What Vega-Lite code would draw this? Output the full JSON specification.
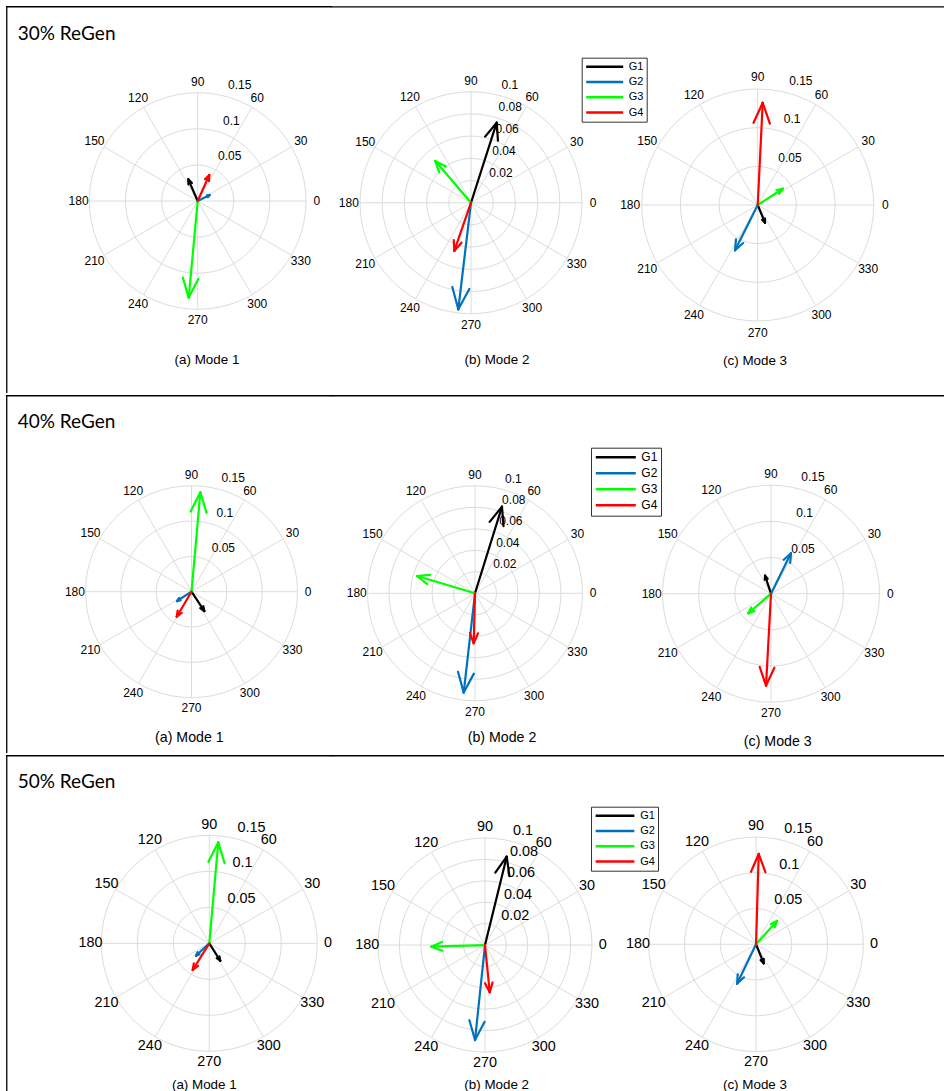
{
"$schema": "https://vega.github.io/schema/vega-lite/v6.json",
"padding": {"left": 5, "top": 5, "right": 0, "bottom": 0},
"background": "white",
"config": {"view": {"stroke": null}},
"datasets": {
 "spokes": [{"a":0},{"a":30},{"a":60},{"a":90},{"a":120},{"a":150}],
 "angles": [{"a":0},{"a":30},{"a":60},{"a":90},{"a":120},{"a":150},{"a":180},{"a":210},{"a":240},{"a":270},{"a":300},{"a":330}],
 "rings15": [{"v":0.05,"lab":"0.05"},{"v":0.1,"lab":"0.1"},{"v":0.15,"lab":"0.15"}],
 "rings10": [{"v":0.02,"lab":"0.02"},{"v":0.04,"lab":"0.04"},{"v":0.06,"lab":"0.06"},{"v":0.08,"lab":"0.08"},{"v":0.1,"lab":"0.1"}],
 "arrows": [
  {"pct":30,"mode":1,"g":"G1","mag":0.0327,"ang":113.4},
  {"pct":30,"mode":1,"g":"G2","mag":0.0186,"ang":26.6},
  {"pct":30,"mode":1,"g":"G3","mag":0.1345,"ang":264.7},
  {"pct":30,"mode":1,"g":"G4","mag":0.0394,"ang":65.9},
  {"pct":30,"mode":2,"g":"G1","mag":0.0757,"ang":72.2},
  {"pct":30,"mode":2,"g":"G2","mag":0.0967,"ang":263.2},
  {"pct":30,"mode":2,"g":"G3","mag":0.0494,"ang":130.6},
  {"pct":30,"mode":2,"g":"G4","mag":0.046,"ang":250.9},
  {"pct":30,"mode":3,"g":"G1","mag":0.0247,"ang":292.4},
  {"pct":30,"mode":3,"g":"G2","mag":0.0655,"ang":243.4},
  {"pct":30,"mode":3,"g":"G3","mag":0.0386,"ang":33.1},
  {"pct":30,"mode":3,"g":"G4","mag":0.1324,"ang":87.2},
  {"pct":40,"mode":1,"g":"G1","mag":0.0328,"ang":303.6},
  {"pct":40,"mode":1,"g":"G2","mag":0.0244,"ang":212.7},
  {"pct":40,"mode":1,"g":"G3","mag":0.1412,"ang":84.9},
  {"pct":40,"mode":1,"g":"G4","mag":0.0411,"ang":239.4},
  {"pct":40,"mode":2,"g":"G1","mag":0.0844,"ang":72.7},
  {"pct":40,"mode":2,"g":"G2","mag":0.093,"ang":263.5},
  {"pct":40,"mode":2,"g":"G3","mag":0.0563,"ang":163.4},
  {"pct":40,"mode":2,"g":"G4","mag":0.0465,"ang":268.5},
  {"pct":40,"mode":3,"g":"G1","mag":0.0262,"ang":108.4},
  {"pct":40,"mode":3,"g":"G2","mag":0.0623,"ang":63.7},
  {"pct":40,"mode":3,"g":"G3","mag":0.0415,"ang":220.8},
  {"pct":40,"mode":3,"g":"G4","mag":0.1273,"ang":266.9},
  {"pct":50,"mode":1,"g":"G1","mag":0.0286,"ang":302.3},
  {"pct":50,"mode":1,"g":"G2","mag":0.0253,"ang":223},
  {"pct":50,"mode":1,"g":"G3","mag":0.1408,"ang":84.9},
  {"pct":50,"mode":1,"g":"G4","mag":0.0436,"ang":238.1},
  {"pct":50,"mode":2,"g":"G1","mag":0.085,"ang":76.2},
  {"pct":50,"mode":2,"g":"G2","mag":0.0893,"ang":264},
  {"pct":50,"mode":2,"g":"G3","mag":0.0502,"ang":181.8},
  {"pct":50,"mode":2,"g":"G4","mag":0.0444,"ang":275.7},
  {"pct":50,"mode":3,"g":"G1","mag":0.0287,"ang":292},
  {"pct":50,"mode":3,"g":"G2","mag":0.0611,"ang":244.3},
  {"pct":50,"mode":3,"g":"G3","mag":0.0439,"ang":48},
  {"pct":50,"mode":3,"g":"G4","mag":0.1263,"ang":88.3}
 ]
},
"spacing": 0,
"resolve": {"scale": {"color": "independent", "size": "independent"}, "legend": {"color": "independent", "size": "independent"}},
"vconcat": [
{"hconcat": [
{"width":325,"height":387,"layer":[
 {"data":{"name":"spokes"},"transform":[{"calculate":"cos(datum.a*PI/180)","as":"c"},{"calculate":"sin(datum.a*PI/180)","as":"s"},{"calculate":"-cos(datum.a*PI/180)","as":"c2"},{"calculate":"-sin(datum.a*PI/180)","as":"s2"}],"mark":{"type":"rule","stroke":"#dcdcdc","strokeWidth":1},"encoding":{"x":{"field":"c","type":"quantitative","scale":{"domain":[-1.770,1.231],"nice":false,"zero":false},"axis":null},"y":{"field":"s","type":"quantitative","scale":{"domain":[-1.773,1.801],"nice":false,"zero":false},"axis":null},"x2":{"field":"c2"},"y2":{"field":"s2"}}},
 {"data":{"name":"rings15"},"transform":[{"calculate":"datum.v/0.15","as":"n"}],"mark":{"type":"point","shape":"circle","filled":false,"stroke":"#dcdcdc","strokeWidth":1,"opacity":1},"encoding":{"x":{"datum":0,"type":"quantitative"},"y":{"datum":0,"type":"quantitative"},"size":{"field":"n","type":"quantitative","scale":{"type":"pow","exponent":2,"domain":[0,1],"range":[0,46916]},"legend":null}}},
 {"data":{"name":"angles"},"transform":[{"calculate":"1.1*cos(datum.a*PI/180)","as":"lx"},{"calculate":"1.1*sin(datum.a*PI/180)","as":"ly"}],"mark":{"type":"text","font":"Liberation Sans","fontSize":12,"fill":"#000"},"encoding":{"x":{"field":"lx","type":"quantitative"},"y":{"field":"ly","type":"quantitative"},"text":{"field":"a","type":"nominal"}}},
 {"data":{"name":"rings15"},"transform":[{"calculate":"datum.v/0.15+0.017","as":"n"},{"calculate":"datum.n*cos(82*PI/180)","as":"lx"},{"calculate":"datum.n*sin(82*PI/180)","as":"ly"}],"mark":{"type":"text","font":"Liberation Sans","fontSize":12,"fill":"#000","align":"left","baseline":"bottom","dx":15},"encoding":{"x":{"field":"lx","type":"quantitative"},"y":{"field":"ly","type":"quantitative"},"text":{"field":"lab","type":"nominal"}}},
 {"data":{"name":"arrows"},"transform":[{"filter":"datum.pct==30 && datum.mode==1"},{"calculate":"datum.mag/0.15","as":"n"},{"calculate":"datum.ang*PI/180","as":"t"},{"calculate":"0","as":"o"},{"calculate":"datum.n*cos(datum.t)","as":"tx"},{"calculate":"datum.n*sin(datum.t)","as":"ty"}],"mark":{"type":"rule","strokeWidth":2.2,"strokeCap":"round"},"encoding":{"x":{"field":"o","type":"quantitative"},"y":{"field":"o","type":"quantitative"},"x2":{"field":"tx"},"y2":{"field":"ty"},"color":{"field":"g","type":"nominal","scale":{"domain":["G1","G2","G3","G4"],"range":["#000000","#0072BD","#00FF00","#FF0000"]},"legend":null}}},
 {"data":{"name":"arrows"},"transform":[{"filter":"datum.pct==30 && datum.mode==1"},{"calculate":"datum.mag/0.15","as":"n"},{"calculate":"datum.ang*PI/180","as":"t"},{"calculate":"datum.n*cos(datum.t)","as":"tx"},{"calculate":"datum.n*sin(datum.t)","as":"ty"},{"calculate":"datum.n*(0.8*cos(datum.t)-0.08*sin(datum.t))","as":"hx"},{"calculate":"datum.n*(0.8*sin(datum.t)+0.08*cos(datum.t))","as":"hy"}],"mark":{"type":"rule","strokeWidth":2.2,"strokeCap":"round"},"encoding":{"x":{"field":"tx","type":"quantitative"},"y":{"field":"ty","type":"quantitative"},"x2":{"field":"hx"},"y2":{"field":"hy"},"color":{"field":"g","type":"nominal","scale":{"domain":["G1","G2","G3","G4"],"range":["#000000","#0072BD","#00FF00","#FF0000"]},"legend":null}}},
 {"data":{"name":"arrows"},"transform":[{"filter":"datum.pct==30 && datum.mode==1"},{"calculate":"datum.mag/0.15","as":"n"},{"calculate":"datum.ang*PI/180","as":"t"},{"calculate":"datum.n*cos(datum.t)","as":"tx"},{"calculate":"datum.n*sin(datum.t)","as":"ty"},{"calculate":"datum.n*(0.8*cos(datum.t)+0.08*sin(datum.t))","as":"hx"},{"calculate":"datum.n*(0.8*sin(datum.t)-0.08*cos(datum.t))","as":"hy"}],"mark":{"type":"rule","strokeWidth":2.2,"strokeCap":"round"},"encoding":{"x":{"field":"tx","type":"quantitative"},"y":{"field":"ty","type":"quantitative"},"x2":{"field":"hx"},"y2":{"field":"hy"},"color":{"field":"g","type":"nominal","scale":{"domain":["G1","G2","G3","G4"],"range":["#000000","#0072BD","#00FF00","#FF0000"]},"legend":null}}},
 {"data":{"values":[{"t":"(a) Mode 1"}]},"transform":[{"calculate":"0.086","as":"px"},{"calculate":"-1.468","as":"py"}],"mark":{"type":"text","font":"Liberation Sans","fontSize":13.4,"fill":"#000"},"encoding":{"x":{"field":"px","type":"quantitative"},"y":{"field":"py","type":"quantitative"},"text":{"field":"t","type":"nominal"}}},
 {"data":{"values":[{"t":"30% ReGen"}]},"transform":[{"calculate":"-1.662","as":"px"},{"calculate":"1.542","as":"py"}],"mark":{"type":"text","font":"Lato","fontSize":19,"fill":"#000","align":"left"},"encoding":{"x":{"field":"px","type":"quantitative"},"y":{"field":"py","type":"quantitative"},"text":{"field":"t","type":"nominal"}}},
 {"data":{"values":[{"side":"top"},{"side":"left"}]},"transform":[{"calculate":"-1.763","as":"fx0"},{"calculate":"datum.side=='top' ? 1.231 : -1.763","as":"fx1"},{"calculate":"1.794","as":"fy0"},{"calculate":"datum.side=='top' ? 1.794 : -1.766","as":"fy1"}],"mark":{"type":"rule","stroke":"#000","strokeWidth":1.3,"strokeCap":"square"},"encoding":{"x":{"field":"fx0","type":"quantitative"},"x2":{"field":"fx1"},"y":{"field":"fy0","type":"quantitative"},"y2":{"field":"fy1"}}}
]},
{"width":285,"height":387,"layer":[
 {"data":{"name":"spokes"},"transform":[{"calculate":"cos(datum.a*PI/180)","as":"c"},{"calculate":"sin(datum.a*PI/180)","as":"s"},{"calculate":"-cos(datum.a*PI/180)","as":"c2"},{"calculate":"-sin(datum.a*PI/180)","as":"s2"}],"mark":{"type":"rule","stroke":"#dcdcdc","strokeWidth":1},"encoding":{"x":{"field":"c","type":"quantitative","scale":{"domain":[-1.261,1.306],"nice":false,"zero":false},"axis":null},"y":{"field":"s","type":"quantitative","scale":{"domain":[-1.714,1.772],"nice":false,"zero":false},"axis":null},"x2":{"field":"c2"},"y2":{"field":"s2"}}},
 {"data":{"name":"rings10"},"transform":[{"calculate":"datum.v/0.1","as":"n"}],"mark":{"type":"point","shape":"circle","filled":false,"stroke":"#dcdcdc","strokeWidth":1,"opacity":1},"encoding":{"x":{"datum":0,"type":"quantitative"},"y":{"datum":0,"type":"quantitative"},"size":{"field":"n","type":"quantitative","scale":{"type":"pow","exponent":2,"domain":[0,1],"range":[0,49284]},"legend":null}}},
 {"data":{"name":"angles"},"transform":[{"calculate":"1.1*cos(datum.a*PI/180)","as":"lx"},{"calculate":"1.1*sin(datum.a*PI/180)","as":"ly"}],"mark":{"type":"text","font":"Liberation Sans","fontSize":12,"fill":"#000"},"encoding":{"x":{"field":"lx","type":"quantitative"},"y":{"field":"ly","type":"quantitative"},"text":{"field":"a","type":"nominal"}}},
 {"data":{"name":"rings10"},"transform":[{"calculate":"datum.v/0.1+0.01","as":"n"},{"calculate":"datum.n*cos(82*PI/180)","as":"lx"},{"calculate":"datum.n*sin(82*PI/180)","as":"ly"}],"mark":{"type":"text","font":"Liberation Sans","fontSize":12,"fill":"#000","align":"left","baseline":"bottom","dx":15},"encoding":{"x":{"field":"lx","type":"quantitative"},"y":{"field":"ly","type":"quantitative"},"text":{"field":"lab","type":"nominal"}}},
 {"data":{"name":"arrows"},"transform":[{"filter":"datum.pct==30 && datum.mode==2"},{"calculate":"datum.mag/0.1","as":"n"},{"calculate":"datum.ang*PI/180","as":"t"},{"calculate":"0","as":"o"},{"calculate":"datum.n*cos(datum.t)","as":"tx"},{"calculate":"datum.n*sin(datum.t)","as":"ty"}],"mark":{"type":"rule","strokeWidth":2.2,"strokeCap":"round"},"encoding":{"x":{"field":"o","type":"quantitative"},"y":{"field":"o","type":"quantitative"},"x2":{"field":"tx"},"y2":{"field":"ty"},"color":{"field":"g","type":"nominal","scale":{"domain":["G1","G2","G3","G4"],"range":["#000000","#0072BD","#00FF00","#FF0000"]},"legend":{"title":null,"orient":"none","legendX":250.7,"legendY":51.7,"direction":"vertical","symbolType":"stroke","symbolSize":1369,"symbolStrokeWidth":2.5,"symbolOpacity":1,"labelFont":"Liberation Sans","labelFontSize":11,"labelColor":"#000","labelOffset":4,"clipHeight":12,"rowPadding":3.3,"padding":3,"strokeColor":"#333","fillColor":"#fff"}}}},
 {"data":{"name":"arrows"},"transform":[{"filter":"datum.pct==30 && datum.mode==2"},{"calculate":"datum.mag/0.1","as":"n"},{"calculate":"datum.ang*PI/180","as":"t"},{"calculate":"datum.n*cos(datum.t)","as":"tx"},{"calculate":"datum.n*sin(datum.t)","as":"ty"},{"calculate":"datum.n*(0.8*cos(datum.t)-0.08*sin(datum.t))","as":"hx"},{"calculate":"datum.n*(0.8*sin(datum.t)+0.08*cos(datum.t))","as":"hy"}],"mark":{"type":"rule","strokeWidth":2.2,"strokeCap":"round"},"encoding":{"x":{"field":"tx","type":"quantitative"},"y":{"field":"ty","type":"quantitative"},"x2":{"field":"hx"},"y2":{"field":"hy"},"color":{"field":"g","type":"nominal","scale":{"domain":["G1","G2","G3","G4"],"range":["#000000","#0072BD","#00FF00","#FF0000"]},"legend":{"title":null,"orient":"none","legendX":250.7,"legendY":51.7,"direction":"vertical","symbolType":"stroke","symbolSize":1369,"symbolStrokeWidth":2.5,"symbolOpacity":1,"labelFont":"Liberation Sans","labelFontSize":11,"labelColor":"#000","labelOffset":4,"clipHeight":12,"rowPadding":3.3,"padding":3,"strokeColor":"#333","fillColor":"#fff"}}}},
 {"data":{"name":"arrows"},"transform":[{"filter":"datum.pct==30 && datum.mode==2"},{"calculate":"datum.mag/0.1","as":"n"},{"calculate":"datum.ang*PI/180","as":"t"},{"calculate":"datum.n*cos(datum.t)","as":"tx"},{"calculate":"datum.n*sin(datum.t)","as":"ty"},{"calculate":"datum.n*(0.8*cos(datum.t)+0.08*sin(datum.t))","as":"hx"},{"calculate":"datum.n*(0.8*sin(datum.t)-0.08*cos(datum.t))","as":"hy"}],"mark":{"type":"rule","strokeWidth":2.2,"strokeCap":"round"},"encoding":{"x":{"field":"tx","type":"quantitative"},"y":{"field":"ty","type":"quantitative"},"x2":{"field":"hx"},"y2":{"field":"hy"},"color":{"field":"g","type":"nominal","scale":{"domain":["G1","G2","G3","G4"],"range":["#000000","#0072BD","#00FF00","#FF0000"]},"legend":{"title":null,"orient":"none","legendX":250.7,"legendY":51.7,"direction":"vertical","symbolType":"stroke","symbolSize":1369,"symbolStrokeWidth":2.5,"symbolOpacity":1,"labelFont":"Liberation Sans","labelFontSize":11,"labelColor":"#000","labelOffset":4,"clipHeight":12,"rowPadding":3.3,"padding":3,"strokeColor":"#333","fillColor":"#fff"}}}},
 {"data":{"values":[{"t":"(b) Mode 2"}]},"transform":[{"calculate":"0.234","as":"px"},{"calculate":"-1.417","as":"py"}],"mark":{"type":"text","font":"Liberation Sans","fontSize":13.4,"fill":"#000"},"encoding":{"x":{"field":"px","type":"quantitative"},"y":{"field":"py","type":"quantitative"},"text":{"field":"t","type":"nominal"}}},
 {"data":{"values":[{"side":"top"}]},"transform":[{"calculate":"-1.261","as":"fx0"},{"calculate":"1.306","as":"fx1"},{"calculate":"1.765","as":"fy0"}],"mark":{"type":"rule","stroke":"#000","strokeWidth":1.3},"encoding":{"x":{"field":"fx0","type":"quantitative"},"x2":{"field":"fx1"},"y":{"field":"fy0","type":"quantitative"},"y2":{"field":"fy0"}}}
]},
{"width":329,"height":387,"layer":[
 {"data":{"name":"spokes"},"transform":[{"calculate":"cos(datum.a*PI/180)","as":"c"},{"calculate":"sin(datum.a*PI/180)","as":"s"},{"calculate":"-cos(datum.a*PI/180)","as":"c2"},{"calculate":"-sin(datum.a*PI/180)","as":"s2"}],"mark":{"type":"rule","stroke":"#dcdcdc","strokeWidth":1},"encoding":{"x":{"field":"c","type":"quantitative","scale":{"domain":[-1.222,1.615],"nice":false,"zero":false},"axis":null},"y":{"field":"s","type":"quantitative","scale":{"domain":[-1.621,1.716],"nice":false,"zero":false},"axis":null},"x2":{"field":"c2"},"y2":{"field":"s2"}}},
 {"data":{"name":"rings15"},"transform":[{"calculate":"datum.v/0.15","as":"n"}],"mark":{"type":"point","shape":"circle","filled":false,"stroke":"#dcdcdc","strokeWidth":1,"opacity":1},"encoding":{"x":{"datum":0,"type":"quantitative"},"y":{"datum":0,"type":"quantitative"},"size":{"field":"n","type":"quantitative","scale":{"type":"pow","exponent":2,"domain":[0,1],"range":[0,53824]},"legend":null}}},
 {"data":{"name":"angles"},"transform":[{"calculate":"1.1*cos(datum.a*PI/180)","as":"lx"},{"calculate":"1.1*sin(datum.a*PI/180)","as":"ly"}],"mark":{"type":"text","font":"Liberation Sans","fontSize":12,"fill":"#000"},"encoding":{"x":{"field":"lx","type":"quantitative"},"y":{"field":"ly","type":"quantitative"},"text":{"field":"a","type":"nominal"}}},
 {"data":{"name":"rings15"},"transform":[{"calculate":"datum.v/0.15+0.017","as":"n"},{"calculate":"datum.n*cos(82*PI/180)","as":"lx"},{"calculate":"datum.n*sin(82*PI/180)","as":"ly"}],"mark":{"type":"text","font":"Liberation Sans","fontSize":12,"fill":"#000","align":"left","baseline":"bottom","dx":15},"encoding":{"x":{"field":"lx","type":"quantitative"},"y":{"field":"ly","type":"quantitative"},"text":{"field":"lab","type":"nominal"}}},
 {"data":{"name":"arrows"},"transform":[{"filter":"datum.pct==30 && datum.mode==3"},{"calculate":"datum.mag/0.15","as":"n"},{"calculate":"datum.ang*PI/180","as":"t"},{"calculate":"0","as":"o"},{"calculate":"datum.n*cos(datum.t)","as":"tx"},{"calculate":"datum.n*sin(datum.t)","as":"ty"}],"mark":{"type":"rule","strokeWidth":2.2,"strokeCap":"round"},"encoding":{"x":{"field":"o","type":"quantitative"},"y":{"field":"o","type":"quantitative"},"x2":{"field":"tx"},"y2":{"field":"ty"},"color":{"field":"g","type":"nominal","scale":{"domain":["G1","G2","G3","G4"],"range":["#000000","#0072BD","#00FF00","#FF0000"]},"legend":null}}},
 {"data":{"name":"arrows"},"transform":[{"filter":"datum.pct==30 && datum.mode==3"},{"calculate":"datum.mag/0.15","as":"n"},{"calculate":"datum.ang*PI/180","as":"t"},{"calculate":"datum.n*cos(datum.t)","as":"tx"},{"calculate":"datum.n*sin(datum.t)","as":"ty"},{"calculate":"datum.n*(0.8*cos(datum.t)-0.08*sin(datum.t))","as":"hx"},{"calculate":"datum.n*(0.8*sin(datum.t)+0.08*cos(datum.t))","as":"hy"}],"mark":{"type":"rule","strokeWidth":2.2,"strokeCap":"round"},"encoding":{"x":{"field":"tx","type":"quantitative"},"y":{"field":"ty","type":"quantitative"},"x2":{"field":"hx"},"y2":{"field":"hy"},"color":{"field":"g","type":"nominal","scale":{"domain":["G1","G2","G3","G4"],"range":["#000000","#0072BD","#00FF00","#FF0000"]},"legend":null}}},
 {"data":{"name":"arrows"},"transform":[{"filter":"datum.pct==30 && datum.mode==3"},{"calculate":"datum.mag/0.15","as":"n"},{"calculate":"datum.ang*PI/180","as":"t"},{"calculate":"datum.n*cos(datum.t)","as":"tx"},{"calculate":"datum.n*sin(datum.t)","as":"ty"},{"calculate":"datum.n*(0.8*cos(datum.t)+0.08*sin(datum.t))","as":"hx"},{"calculate":"datum.n*(0.8*sin(datum.t)-0.08*cos(datum.t))","as":"hy"}],"mark":{"type":"rule","strokeWidth":2.2,"strokeCap":"round"},"encoding":{"x":{"field":"tx","type":"quantitative"},"y":{"field":"ty","type":"quantitative"},"x2":{"field":"hx"},"y2":{"field":"hy"},"color":{"field":"g","type":"nominal","scale":{"domain":["G1","G2","G3","G4"],"range":["#000000","#0072BD","#00FF00","#FF0000"]},"legend":null}}},
 {"data":{"values":[{"t":"(c) Mode 3"}]},"transform":[{"calculate":"-0.023","as":"px"},{"calculate":"-1.345","as":"py"}],"mark":{"type":"text","font":"Liberation Sans","fontSize":13.4,"fill":"#000"},"encoding":{"x":{"field":"px","type":"quantitative"},"y":{"field":"py","type":"quantitative"},"text":{"field":"t","type":"nominal"}}},
 {"data":{"values":[{"side":"top"}]},"transform":[{"calculate":"-1.222","as":"fx0"},{"calculate":"1.615","as":"fx1"},{"calculate":"1.709","as":"fy0"}],"mark":{"type":"rule","stroke":"#000","strokeWidth":1.3},"encoding":{"x":{"field":"fx0","type":"quantitative"},"x2":{"field":"fx1"},"y":{"field":"fy0","type":"quantitative"},"y2":{"field":"fy0"}}}
]}
],"spacing":0,"bounds":"flush","resolve":{"scale":{"color":"independent","size":"independent"},"legend":{"color":"independent","size":"independent"}}},
{"hconcat": [
{"width":325,"height":358,"layer":[
 {"data":{"name":"spokes"},"transform":[{"calculate":"cos(datum.a*PI/180)","as":"c"},{"calculate":"sin(datum.a*PI/180)","as":"s"},{"calculate":"-cos(datum.a*PI/180)","as":"c2"},{"calculate":"-sin(datum.a*PI/180)","as":"s2"}],"mark":{"type":"rule","stroke":"#dcdcdc","strokeWidth":1},"encoding":{"x":{"field":"c","type":"quantitative","scale":{"domain":[-1.750,1.316],"nice":false,"zero":false},"axis":null},"y":{"field":"s","type":"quantitative","scale":{"domain":[-1.522,1.856],"nice":false,"zero":false},"axis":null},"x2":{"field":"c2"},"y2":{"field":"s2"}}},
 {"data":{"name":"rings15"},"transform":[{"calculate":"datum.v/0.15","as":"n"}],"mark":{"type":"point","shape":"circle","filled":false,"stroke":"#dcdcdc","strokeWidth":1,"opacity":1},"encoding":{"x":{"datum":0,"type":"quantitative"},"y":{"datum":0,"type":"quantitative"},"size":{"field":"n","type":"quantitative","scale":{"type":"pow","exponent":2,"domain":[0,1],"range":[0,44944]},"legend":null}}},
 {"data":{"name":"angles"},"transform":[{"calculate":"1.1*cos(datum.a*PI/180)","as":"lx"},{"calculate":"1.1*sin(datum.a*PI/180)","as":"ly"}],"mark":{"type":"text","font":"Liberation Sans","fontSize":12,"fill":"#000"},"encoding":{"x":{"field":"lx","type":"quantitative"},"y":{"field":"ly","type":"quantitative"},"text":{"field":"a","type":"nominal"}}},
 {"data":{"name":"rings15"},"transform":[{"calculate":"datum.v/0.15+0.017","as":"n"},{"calculate":"datum.n*cos(82*PI/180)","as":"lx"},{"calculate":"datum.n*sin(82*PI/180)","as":"ly"}],"mark":{"type":"text","font":"Liberation Sans","fontSize":12,"fill":"#000","align":"left","baseline":"bottom","dx":15},"encoding":{"x":{"field":"lx","type":"quantitative"},"y":{"field":"ly","type":"quantitative"},"text":{"field":"lab","type":"nominal"}}},
 {"data":{"name":"arrows"},"transform":[{"filter":"datum.pct==40 && datum.mode==1"},{"calculate":"datum.mag/0.15","as":"n"},{"calculate":"datum.ang*PI/180","as":"t"},{"calculate":"0","as":"o"},{"calculate":"datum.n*cos(datum.t)","as":"tx"},{"calculate":"datum.n*sin(datum.t)","as":"ty"}],"mark":{"type":"rule","strokeWidth":2.2,"strokeCap":"round"},"encoding":{"x":{"field":"o","type":"quantitative"},"y":{"field":"o","type":"quantitative"},"x2":{"field":"tx"},"y2":{"field":"ty"},"color":{"field":"g","type":"nominal","scale":{"domain":["G1","G2","G3","G4"],"range":["#000000","#0072BD","#00FF00","#FF0000"]},"legend":null}}},
 {"data":{"name":"arrows"},"transform":[{"filter":"datum.pct==40 && datum.mode==1"},{"calculate":"datum.mag/0.15","as":"n"},{"calculate":"datum.ang*PI/180","as":"t"},{"calculate":"datum.n*cos(datum.t)","as":"tx"},{"calculate":"datum.n*sin(datum.t)","as":"ty"},{"calculate":"datum.n*(0.8*cos(datum.t)-0.08*sin(datum.t))","as":"hx"},{"calculate":"datum.n*(0.8*sin(datum.t)+0.08*cos(datum.t))","as":"hy"}],"mark":{"type":"rule","strokeWidth":2.2,"strokeCap":"round"},"encoding":{"x":{"field":"tx","type":"quantitative"},"y":{"field":"ty","type":"quantitative"},"x2":{"field":"hx"},"y2":{"field":"hy"},"color":{"field":"g","type":"nominal","scale":{"domain":["G1","G2","G3","G4"],"range":["#000000","#0072BD","#00FF00","#FF0000"]},"legend":null}}},
 {"data":{"name":"arrows"},"transform":[{"filter":"datum.pct==40 && datum.mode==1"},{"calculate":"datum.mag/0.15","as":"n"},{"calculate":"datum.ang*PI/180","as":"t"},{"calculate":"datum.n*cos(datum.t)","as":"tx"},{"calculate":"datum.n*sin(datum.t)","as":"ty"},{"calculate":"datum.n*(0.8*cos(datum.t)+0.08*sin(datum.t))","as":"hx"},{"calculate":"datum.n*(0.8*sin(datum.t)-0.08*cos(datum.t))","as":"hy"}],"mark":{"type":"rule","strokeWidth":2.2,"strokeCap":"round"},"encoding":{"x":{"field":"tx","type":"quantitative"},"y":{"field":"ty","type":"quantitative"},"x2":{"field":"hx"},"y2":{"field":"hy"},"color":{"field":"g","type":"nominal","scale":{"domain":["G1","G2","G3","G4"],"range":["#000000","#0072BD","#00FF00","#FF0000"]},"legend":null}}},
 {"data":{"values":[{"t":"(a) Mode 1"}]},"transform":[{"calculate":"-0.02","as":"px"},{"calculate":"-1.383","as":"py"}],"mark":{"type":"text","font":"Liberation Sans","fontSize":14.2,"fill":"#000"},"encoding":{"x":{"field":"px","type":"quantitative"},"y":{"field":"py","type":"quantitative"},"text":{"field":"t","type":"nominal"}}},
 {"data":{"values":[{"t":"40% ReGen"}]},"transform":[{"calculate":"-1.640","as":"px"},{"calculate":"1.604","as":"py"}],"mark":{"type":"text","font":"Lato","fontSize":19,"fill":"#000","align":"left"},"encoding":{"x":{"field":"px","type":"quantitative"},"y":{"field":"py","type":"quantitative"},"text":{"field":"t","type":"nominal"}}},
 {"data":{"values":[{"side":"top"},{"side":"left"}]},"transform":[{"calculate":"-1.743","as":"fx0"},{"calculate":"datum.side=='top' ? 1.316 : -1.743","as":"fx1"},{"calculate":"1.849","as":"fy0"},{"calculate":"datum.side=='top' ? 1.849 : -1.515","as":"fy1"}],"mark":{"type":"rule","stroke":"#000","strokeWidth":1.3,"strokeCap":"square"},"encoding":{"x":{"field":"fx0","type":"quantitative"},"x2":{"field":"fx1"},"y":{"field":"fy0","type":"quantitative"},"y2":{"field":"fy1"}}}
]},
{"width":285,"height":358,"layer":[
 {"data":{"name":"spokes"},"transform":[{"calculate":"cos(datum.a*PI/180)","as":"c"},{"calculate":"sin(datum.a*PI/180)","as":"s"},{"calculate":"-cos(datum.a*PI/180)","as":"c2"},{"calculate":"-sin(datum.a*PI/180)","as":"s2"}],"mark":{"type":"rule","stroke":"#dcdcdc","strokeWidth":1},"encoding":{"x":{"field":"c","type":"quantitative","scale":{"domain":[-1.340,1.312],"nice":false,"zero":false},"axis":null},"y":{"field":"s","type":"quantitative","scale":{"domain":[-1.486,1.845],"nice":false,"zero":false},"axis":null},"x2":{"field":"c2"},"y2":{"field":"s2"}}},
 {"data":{"name":"rings10"},"transform":[{"calculate":"datum.v/0.1","as":"n"}],"mark":{"type":"point","shape":"circle","filled":false,"stroke":"#dcdcdc","strokeWidth":1,"opacity":1},"encoding":{"x":{"datum":0,"type":"quantitative"},"y":{"datum":0,"type":"quantitative"},"size":{"field":"n","type":"quantitative","scale":{"type":"pow","exponent":2,"domain":[0,1],"range":[0,46225]},"legend":null}}},
 {"data":{"name":"angles"},"transform":[{"calculate":"1.1*cos(datum.a*PI/180)","as":"lx"},{"calculate":"1.1*sin(datum.a*PI/180)","as":"ly"}],"mark":{"type":"text","font":"Liberation Sans","fontSize":12,"fill":"#000"},"encoding":{"x":{"field":"lx","type":"quantitative"},"y":{"field":"ly","type":"quantitative"},"text":{"field":"a","type":"nominal"}}},
 {"data":{"name":"rings10"},"transform":[{"calculate":"datum.v/0.1+0.01","as":"n"},{"calculate":"datum.n*cos(82*PI/180)","as":"lx"},{"calculate":"datum.n*sin(82*PI/180)","as":"ly"}],"mark":{"type":"text","font":"Liberation Sans","fontSize":12,"fill":"#000","align":"left","baseline":"bottom","dx":15},"encoding":{"x":{"field":"lx","type":"quantitative"},"y":{"field":"ly","type":"quantitative"},"text":{"field":"lab","type":"nominal"}}},
 {"data":{"name":"arrows"},"transform":[{"filter":"datum.pct==40 && datum.mode==2"},{"calculate":"datum.mag/0.1","as":"n"},{"calculate":"datum.ang*PI/180","as":"t"},{"calculate":"0","as":"o"},{"calculate":"datum.n*cos(datum.t)","as":"tx"},{"calculate":"datum.n*sin(datum.t)","as":"ty"}],"mark":{"type":"rule","strokeWidth":2.2,"strokeCap":"round"},"encoding":{"x":{"field":"o","type":"quantitative"},"y":{"field":"o","type":"quantitative"},"x2":{"field":"tx"},"y2":{"field":"ty"},"color":{"field":"g","type":"nominal","scale":{"domain":["G1","G2","G3","G4"],"range":["#000000","#0072BD","#00FF00","#FF0000"]},"legend":{"title":null,"orient":"none","legendX":260,"legendY":52.7,"direction":"vertical","symbolType":"stroke","symbolSize":1600,"symbolStrokeWidth":2.5,"symbolOpacity":1,"labelFont":"Liberation Sans","labelFontSize":12,"labelColor":"#000","labelOffset":4,"clipHeight":12.5,"rowPadding":3,"padding":3.3,"strokeColor":"#333","fillColor":"#fff"}}}},
 {"data":{"name":"arrows"},"transform":[{"filter":"datum.pct==40 && datum.mode==2"},{"calculate":"datum.mag/0.1","as":"n"},{"calculate":"datum.ang*PI/180","as":"t"},{"calculate":"datum.n*cos(datum.t)","as":"tx"},{"calculate":"datum.n*sin(datum.t)","as":"ty"},{"calculate":"datum.n*(0.8*cos(datum.t)-0.08*sin(datum.t))","as":"hx"},{"calculate":"datum.n*(0.8*sin(datum.t)+0.08*cos(datum.t))","as":"hy"}],"mark":{"type":"rule","strokeWidth":2.2,"strokeCap":"round"},"encoding":{"x":{"field":"tx","type":"quantitative"},"y":{"field":"ty","type":"quantitative"},"x2":{"field":"hx"},"y2":{"field":"hy"},"color":{"field":"g","type":"nominal","scale":{"domain":["G1","G2","G3","G4"],"range":["#000000","#0072BD","#00FF00","#FF0000"]},"legend":{"title":null,"orient":"none","legendX":260,"legendY":52.7,"direction":"vertical","symbolType":"stroke","symbolSize":1600,"symbolStrokeWidth":2.5,"symbolOpacity":1,"labelFont":"Liberation Sans","labelFontSize":12,"labelColor":"#000","labelOffset":4,"clipHeight":12.5,"rowPadding":3,"padding":3.3,"strokeColor":"#333","fillColor":"#fff"}}}},
 {"data":{"name":"arrows"},"transform":[{"filter":"datum.pct==40 && datum.mode==2"},{"calculate":"datum.mag/0.1","as":"n"},{"calculate":"datum.ang*PI/180","as":"t"},{"calculate":"datum.n*cos(datum.t)","as":"tx"},{"calculate":"datum.n*sin(datum.t)","as":"ty"},{"calculate":"datum.n*(0.8*cos(datum.t)+0.08*sin(datum.t))","as":"hx"},{"calculate":"datum.n*(0.8*sin(datum.t)-0.08*cos(datum.t))","as":"hy"}],"mark":{"type":"rule","strokeWidth":2.2,"strokeCap":"round"},"encoding":{"x":{"field":"tx","type":"quantitative"},"y":{"field":"ty","type":"quantitative"},"x2":{"field":"hx"},"y2":{"field":"hy"},"color":{"field":"g","type":"nominal","scale":{"domain":["G1","G2","G3","G4"],"range":["#000000","#0072BD","#00FF00","#FF0000"]},"legend":{"title":null,"orient":"none","legendX":260,"legendY":52.7,"direction":"vertical","symbolType":"stroke","symbolSize":1600,"symbolStrokeWidth":2.5,"symbolOpacity":1,"labelFont":"Liberation Sans","labelFontSize":12,"labelColor":"#000","labelOffset":4,"clipHeight":12.5,"rowPadding":3,"padding":3.3,"strokeColor":"#333","fillColor":"#fff"}}}},
 {"data":{"values":[{"t":"(b) Mode 2"}]},"transform":[{"calculate":"0.251","as":"px"},{"calculate":"-1.349","as":"py"}],"mark":{"type":"text","font":"Liberation Sans","fontSize":14.2,"fill":"#000"},"encoding":{"x":{"field":"px","type":"quantitative"},"y":{"field":"py","type":"quantitative"},"text":{"field":"t","type":"nominal"}}},
 {"data":{"values":[{"side":"top"}]},"transform":[{"calculate":"-1.340","as":"fx0"},{"calculate":"1.312","as":"fx1"},{"calculate":"1.838","as":"fy0"}],"mark":{"type":"rule","stroke":"#000","strokeWidth":1.3},"encoding":{"x":{"field":"fx0","type":"quantitative"},"x2":{"field":"fx1"},"y":{"field":"fy0","type":"quantitative"},"y2":{"field":"fy0"}}}
]},
{"width":329,"height":358,"layer":[
 {"data":{"name":"spokes"},"transform":[{"calculate":"cos(datum.a*PI/180)","as":"c"},{"calculate":"sin(datum.a*PI/180)","as":"s"},{"calculate":"-cos(datum.a*PI/180)","as":"c2"},{"calculate":"-sin(datum.a*PI/180)","as":"s2"}],"mark":{"type":"rule","stroke":"#dcdcdc","strokeWidth":1},"encoding":{"x":{"field":"c","type":"quantitative","scale":{"domain":[-1.429,1.604],"nice":false,"zero":false},"axis":null},"y":{"field":"s","type":"quantitative","scale":{"domain":[-1.468,1.831],"nice":false,"zero":false},"axis":null},"x2":{"field":"c2"},"y2":{"field":"s2"}}},
 {"data":{"name":"rings15"},"transform":[{"calculate":"datum.v/0.15","as":"n"}],"mark":{"type":"point","shape":"circle","filled":false,"stroke":"#dcdcdc","strokeWidth":1,"opacity":1},"encoding":{"x":{"datum":0,"type":"quantitative"},"y":{"datum":0,"type":"quantitative"},"size":{"field":"n","type":"quantitative","scale":{"type":"pow","exponent":2,"domain":[0,1],"range":[0,47089]},"legend":null}}},
 {"data":{"name":"angles"},"transform":[{"calculate":"1.1*cos(datum.a*PI/180)","as":"lx"},{"calculate":"1.1*sin(datum.a*PI/180)","as":"ly"}],"mark":{"type":"text","font":"Liberation Sans","fontSize":12,"fill":"#000"},"encoding":{"x":{"field":"lx","type":"quantitative"},"y":{"field":"ly","type":"quantitative"},"text":{"field":"a","type":"nominal"}}},
 {"data":{"name":"rings15"},"transform":[{"calculate":"datum.v/0.15+0.017","as":"n"},{"calculate":"datum.n*cos(82*PI/180)","as":"lx"},{"calculate":"datum.n*sin(82*PI/180)","as":"ly"}],"mark":{"type":"text","font":"Liberation Sans","fontSize":12,"fill":"#000","align":"left","baseline":"bottom","dx":15},"encoding":{"x":{"field":"lx","type":"quantitative"},"y":{"field":"ly","type":"quantitative"},"text":{"field":"lab","type":"nominal"}}},
 {"data":{"name":"arrows"},"transform":[{"filter":"datum.pct==40 && datum.mode==3"},{"calculate":"datum.mag/0.15","as":"n"},{"calculate":"datum.ang*PI/180","as":"t"},{"calculate":"0","as":"o"},{"calculate":"datum.n*cos(datum.t)","as":"tx"},{"calculate":"datum.n*sin(datum.t)","as":"ty"}],"mark":{"type":"rule","strokeWidth":2.2,"strokeCap":"round"},"encoding":{"x":{"field":"o","type":"quantitative"},"y":{"field":"o","type":"quantitative"},"x2":{"field":"tx"},"y2":{"field":"ty"},"color":{"field":"g","type":"nominal","scale":{"domain":["G1","G2","G3","G4"],"range":["#000000","#0072BD","#00FF00","#FF0000"]},"legend":null}}},
 {"data":{"name":"arrows"},"transform":[{"filter":"datum.pct==40 && datum.mode==3"},{"calculate":"datum.mag/0.15","as":"n"},{"calculate":"datum.ang*PI/180","as":"t"},{"calculate":"datum.n*cos(datum.t)","as":"tx"},{"calculate":"datum.n*sin(datum.t)","as":"ty"},{"calculate":"datum.n*(0.8*cos(datum.t)-0.08*sin(datum.t))","as":"hx"},{"calculate":"datum.n*(0.8*sin(datum.t)+0.08*cos(datum.t))","as":"hy"}],"mark":{"type":"rule","strokeWidth":2.2,"strokeCap":"round"},"encoding":{"x":{"field":"tx","type":"quantitative"},"y":{"field":"ty","type":"quantitative"},"x2":{"field":"hx"},"y2":{"field":"hy"},"color":{"field":"g","type":"nominal","scale":{"domain":["G1","G2","G3","G4"],"range":["#000000","#0072BD","#00FF00","#FF0000"]},"legend":null}}},
 {"data":{"name":"arrows"},"transform":[{"filter":"datum.pct==40 && datum.mode==3"},{"calculate":"datum.mag/0.15","as":"n"},{"calculate":"datum.ang*PI/180","as":"t"},{"calculate":"datum.n*cos(datum.t)","as":"tx"},{"calculate":"datum.n*sin(datum.t)","as":"ty"},{"calculate":"datum.n*(0.8*cos(datum.t)+0.08*sin(datum.t))","as":"hx"},{"calculate":"datum.n*(0.8*sin(datum.t)-0.08*cos(datum.t))","as":"hy"}],"mark":{"type":"rule","strokeWidth":2.2,"strokeCap":"round"},"encoding":{"x":{"field":"tx","type":"quantitative"},"y":{"field":"ty","type":"quantitative"},"x2":{"field":"hx"},"y2":{"field":"hy"},"color":{"field":"g","type":"nominal","scale":{"domain":["G1","G2","G3","G4"],"range":["#000000","#0072BD","#00FF00","#FF0000"]},"legend":null}}},
 {"data":{"values":[{"t":"(c) Mode 3"}]},"transform":[{"calculate":"0.062","as":"px"},{"calculate":"-1.364","as":"py"}],"mark":{"type":"text","font":"Liberation Sans","fontSize":14.2,"fill":"#000"},"encoding":{"x":{"field":"px","type":"quantitative"},"y":{"field":"py","type":"quantitative"},"text":{"field":"t","type":"nominal"}}},
 {"data":{"values":[{"side":"top"}]},"transform":[{"calculate":"-1.429","as":"fx0"},{"calculate":"1.604","as":"fx1"},{"calculate":"1.824","as":"fy0"}],"mark":{"type":"rule","stroke":"#000","strokeWidth":1.3},"encoding":{"x":{"field":"fx0","type":"quantitative"},"x2":{"field":"fx1"},"y":{"field":"fy0","type":"quantitative"},"y2":{"field":"fy0"}}}
]}
],"spacing":0,"bounds":"flush","resolve":{"scale":{"color":"independent","size":"independent"},"legend":{"color":"independent","size":"independent"}}},
{"hconcat": [
{"width":325,"height":341,"layer":[
 {"data":{"name":"spokes"},"transform":[{"calculate":"cos(datum.a*PI/180)","as":"c"},{"calculate":"sin(datum.a*PI/180)","as":"s"},{"calculate":"-cos(datum.a*PI/180)","as":"c2"},{"calculate":"-sin(datum.a*PI/180)","as":"s2"}],"mark":{"type":"rule","stroke":"#dcdcdc","strokeWidth":1},"encoding":{"x":{"field":"c","type":"quantitative","scale":{"domain":[-1.882,1.127],"nice":false,"zero":false},"axis":null},"y":{"field":"s","type":"quantitative","scale":{"domain":[-1.414,1.744],"nice":false,"zero":false},"axis":null},"x2":{"field":"c2"},"y2":{"field":"s2"}}},
 {"data":{"name":"rings15"},"transform":[{"calculate":"datum.v/0.15","as":"n"}],"mark":{"type":"point","shape":"circle","filled":false,"stroke":"#dcdcdc","strokeWidth":1,"opacity":1},"encoding":{"x":{"datum":0,"type":"quantitative"},"y":{"datum":0,"type":"quantitative"},"size":{"field":"n","type":"quantitative","scale":{"type":"pow","exponent":2,"domain":[0,1],"range":[0,46656]},"legend":null}}},
 {"data":{"name":"angles"},"transform":[{"calculate":"1.1*cos(datum.a*PI/180)","as":"lx"},{"calculate":"1.1*sin(datum.a*PI/180)","as":"ly"}],"mark":{"type":"text","font":"Liberation Sans","fontSize":14.4,"fill":"#000"},"encoding":{"x":{"field":"lx","type":"quantitative"},"y":{"field":"ly","type":"quantitative"},"text":{"field":"a","type":"nominal"}}},
 {"data":{"name":"rings15"},"transform":[{"calculate":"datum.v/0.15+0.017","as":"n"},{"calculate":"datum.n*cos(82*PI/180)","as":"lx"},{"calculate":"datum.n*sin(82*PI/180)","as":"ly"}],"mark":{"type":"text","font":"Liberation Sans","fontSize":14.4,"fill":"#000","align":"left","baseline":"bottom","dx":13},"encoding":{"x":{"field":"lx","type":"quantitative"},"y":{"field":"ly","type":"quantitative"},"text":{"field":"lab","type":"nominal"}}},
 {"data":{"name":"arrows"},"transform":[{"filter":"datum.pct==50 && datum.mode==1"},{"calculate":"datum.mag/0.15","as":"n"},{"calculate":"datum.ang*PI/180","as":"t"},{"calculate":"0","as":"o"},{"calculate":"datum.n*cos(datum.t)","as":"tx"},{"calculate":"datum.n*sin(datum.t)","as":"ty"}],"mark":{"type":"rule","strokeWidth":2.2,"strokeCap":"round"},"encoding":{"x":{"field":"o","type":"quantitative"},"y":{"field":"o","type":"quantitative"},"x2":{"field":"tx"},"y2":{"field":"ty"},"color":{"field":"g","type":"nominal","scale":{"domain":["G1","G2","G3","G4"],"range":["#000000","#0072BD","#00FF00","#FF0000"]},"legend":null}}},
 {"data":{"name":"arrows"},"transform":[{"filter":"datum.pct==50 && datum.mode==1"},{"calculate":"datum.mag/0.15","as":"n"},{"calculate":"datum.ang*PI/180","as":"t"},{"calculate":"datum.n*cos(datum.t)","as":"tx"},{"calculate":"datum.n*sin(datum.t)","as":"ty"},{"calculate":"datum.n*(0.8*cos(datum.t)-0.08*sin(datum.t))","as":"hx"},{"calculate":"datum.n*(0.8*sin(datum.t)+0.08*cos(datum.t))","as":"hy"}],"mark":{"type":"rule","strokeWidth":2.2,"strokeCap":"round"},"encoding":{"x":{"field":"tx","type":"quantitative"},"y":{"field":"ty","type":"quantitative"},"x2":{"field":"hx"},"y2":{"field":"hy"},"color":{"field":"g","type":"nominal","scale":{"domain":["G1","G2","G3","G4"],"range":["#000000","#0072BD","#00FF00","#FF0000"]},"legend":null}}},
 {"data":{"name":"arrows"},"transform":[{"filter":"datum.pct==50 && datum.mode==1"},{"calculate":"datum.mag/0.15","as":"n"},{"calculate":"datum.ang*PI/180","as":"t"},{"calculate":"datum.n*cos(datum.t)","as":"tx"},{"calculate":"datum.n*sin(datum.t)","as":"ty"},{"calculate":"datum.n*(0.8*cos(datum.t)+0.08*sin(datum.t))","as":"hx"},{"calculate":"datum.n*(0.8*sin(datum.t)-0.08*cos(datum.t))","as":"hy"}],"mark":{"type":"rule","strokeWidth":2.2,"strokeCap":"round"},"encoding":{"x":{"field":"tx","type":"quantitative"},"y":{"field":"ty","type":"quantitative"},"x2":{"field":"hx"},"y2":{"field":"hy"},"color":{"field":"g","type":"nominal","scale":{"domain":["G1","G2","G3","G4"],"range":["#000000","#0072BD","#00FF00","#FF0000"]},"legend":null}}},
 {"data":{"values":[{"t":"(a) Mode 1"}]},"transform":[{"calculate":"-0.046","as":"px"},{"calculate":"-1.312","as":"py"}],"mark":{"type":"text","font":"Liberation Sans","fontSize":13.4,"fill":"#000"},"encoding":{"x":{"field":"px","type":"quantitative"},"y":{"field":"py","type":"quantitative"},"text":{"field":"t","type":"nominal"}}},
 {"data":{"values":[{"t":"50% ReGen"}]},"transform":[{"calculate":"-1.774","as":"px"},{"calculate":"1.496","as":"py"}],"mark":{"type":"text","font":"Lato","fontSize":19,"fill":"#000","align":"left"},"encoding":{"x":{"field":"px","type":"quantitative"},"y":{"field":"py","type":"quantitative"},"text":{"field":"t","type":"nominal"}}},
 {"data":{"values":[{"side":"top"},{"side":"left"}]},"transform":[{"calculate":"-1.875","as":"fx0"},{"calculate":"datum.side=='top' ? 1.127 : -1.875","as":"fx1"},{"calculate":"1.737","as":"fy0"},{"calculate":"datum.side=='top' ? 1.737 : -1.407","as":"fy1"}],"mark":{"type":"rule","stroke":"#000","strokeWidth":1.3,"strokeCap":"square"},"encoding":{"x":{"field":"fx0","type":"quantitative"},"x2":{"field":"fx1"},"y":{"field":"fy0","type":"quantitative"},"y2":{"field":"fy1"}}}
]},
{"width":285,"height":341,"layer":[
 {"data":{"name":"spokes"},"transform":[{"calculate":"cos(datum.a*PI/180)","as":"c"},{"calculate":"sin(datum.a*PI/180)","as":"s"},{"calculate":"-cos(datum.a*PI/180)","as":"c2"},{"calculate":"-sin(datum.a*PI/180)","as":"s2"}],"mark":{"type":"rule","stroke":"#dcdcdc","strokeWidth":1},"encoding":{"x":{"field":"c","type":"quantitative","scale":{"domain":[-1.439,1.224],"nice":false,"zero":false},"axis":null},"y":{"field":"s","type":"quantitative","scale":{"domain":[-1.411,1.776],"nice":false,"zero":false},"axis":null},"x2":{"field":"c2"},"y2":{"field":"s2"}}},
 {"data":{"name":"rings10"},"transform":[{"calculate":"datum.v/0.1","as":"n"}],"mark":{"type":"point","shape":"circle","filled":false,"stroke":"#dcdcdc","strokeWidth":1,"opacity":1},"encoding":{"x":{"datum":0,"type":"quantitative"},"y":{"datum":0,"type":"quantitative"},"size":{"field":"n","type":"quantitative","scale":{"type":"pow","exponent":2,"domain":[0,1],"range":[0,45796]},"legend":null}}},
 {"data":{"name":"angles"},"transform":[{"calculate":"1.1*cos(datum.a*PI/180)","as":"lx"},{"calculate":"1.1*sin(datum.a*PI/180)","as":"ly"}],"mark":{"type":"text","font":"Liberation Sans","fontSize":14.4,"fill":"#000"},"encoding":{"x":{"field":"lx","type":"quantitative"},"y":{"field":"ly","type":"quantitative"},"text":{"field":"a","type":"nominal"}}},
 {"data":{"name":"rings10"},"transform":[{"calculate":"datum.v/0.1+0.01","as":"n"},{"calculate":"datum.n*cos(82*PI/180)","as":"lx"},{"calculate":"datum.n*sin(82*PI/180)","as":"ly"}],"mark":{"type":"text","font":"Liberation Sans","fontSize":14.4,"fill":"#000","align":"left","baseline":"bottom","dx":13},"encoding":{"x":{"field":"lx","type":"quantitative"},"y":{"field":"ly","type":"quantitative"},"text":{"field":"lab","type":"nominal"}}},
 {"data":{"name":"arrows"},"transform":[{"filter":"datum.pct==50 && datum.mode==2"},{"calculate":"datum.mag/0.1","as":"n"},{"calculate":"datum.ang*PI/180","as":"t"},{"calculate":"0","as":"o"},{"calculate":"datum.n*cos(datum.t)","as":"tx"},{"calculate":"datum.n*sin(datum.t)","as":"ty"}],"mark":{"type":"rule","strokeWidth":2.2,"strokeCap":"round"},"encoding":{"x":{"field":"o","type":"quantitative"},"y":{"field":"o","type":"quantitative"},"x2":{"field":"tx"},"y2":{"field":"ty"},"color":{"field":"g","type":"nominal","scale":{"domain":["G1","G2","G3","G4"],"range":["#000000","#0072BD","#00FF00","#FF0000"]},"legend":{"title":null,"orient":"none","legendX":260,"legendY":51.7,"direction":"vertical","symbolType":"stroke","symbolSize":1498,"symbolStrokeWidth":2.5,"symbolOpacity":1,"labelFont":"Liberation Sans","labelFontSize":11,"labelColor":"#000","labelOffset":4.3,"clipHeight":12,"rowPadding":3.3,"padding":3,"strokeColor":"#333","fillColor":"#fff"}}}},
 {"data":{"name":"arrows"},"transform":[{"filter":"datum.pct==50 && datum.mode==2"},{"calculate":"datum.mag/0.1","as":"n"},{"calculate":"datum.ang*PI/180","as":"t"},{"calculate":"datum.n*cos(datum.t)","as":"tx"},{"calculate":"datum.n*sin(datum.t)","as":"ty"},{"calculate":"datum.n*(0.8*cos(datum.t)-0.08*sin(datum.t))","as":"hx"},{"calculate":"datum.n*(0.8*sin(datum.t)+0.08*cos(datum.t))","as":"hy"}],"mark":{"type":"rule","strokeWidth":2.2,"strokeCap":"round"},"encoding":{"x":{"field":"tx","type":"quantitative"},"y":{"field":"ty","type":"quantitative"},"x2":{"field":"hx"},"y2":{"field":"hy"},"color":{"field":"g","type":"nominal","scale":{"domain":["G1","G2","G3","G4"],"range":["#000000","#0072BD","#00FF00","#FF0000"]},"legend":{"title":null,"orient":"none","legendX":260,"legendY":51.7,"direction":"vertical","symbolType":"stroke","symbolSize":1498,"symbolStrokeWidth":2.5,"symbolOpacity":1,"labelFont":"Liberation Sans","labelFontSize":11,"labelColor":"#000","labelOffset":4.3,"clipHeight":12,"rowPadding":3.3,"padding":3,"strokeColor":"#333","fillColor":"#fff"}}}},
 {"data":{"name":"arrows"},"transform":[{"filter":"datum.pct==50 && datum.mode==2"},{"calculate":"datum.mag/0.1","as":"n"},{"calculate":"datum.ang*PI/180","as":"t"},{"calculate":"datum.n*cos(datum.t)","as":"tx"},{"calculate":"datum.n*sin(datum.t)","as":"ty"},{"calculate":"datum.n*(0.8*cos(datum.t)+0.08*sin(datum.t))","as":"hx"},{"calculate":"datum.n*(0.8*sin(datum.t)-0.08*cos(datum.t))","as":"hy"}],"mark":{"type":"rule","strokeWidth":2.2,"strokeCap":"round"},"encoding":{"x":{"field":"tx","type":"quantitative"},"y":{"field":"ty","type":"quantitative"},"x2":{"field":"hx"},"y2":{"field":"hy"},"color":{"field":"g","type":"nominal","scale":{"domain":["G1","G2","G3","G4"],"range":["#000000","#0072BD","#00FF00","#FF0000"]},"legend":{"title":null,"orient":"none","legendX":260,"legendY":51.7,"direction":"vertical","symbolType":"stroke","symbolSize":1498,"symbolStrokeWidth":2.5,"symbolOpacity":1,"labelFont":"Liberation Sans","labelFontSize":11,"labelColor":"#000","labelOffset":4.3,"clipHeight":12,"rowPadding":3.3,"padding":3,"strokeColor":"#333","fillColor":"#fff"}}}},
 {"data":{"values":[{"t":"(b) Mode 2"}]},"transform":[{"calculate":"0.109","as":"px"},{"calculate":"-1.308","as":"py"}],"mark":{"type":"text","font":"Liberation Sans","fontSize":13.4,"fill":"#000"},"encoding":{"x":{"field":"px","type":"quantitative"},"y":{"field":"py","type":"quantitative"},"text":{"field":"t","type":"nominal"}}},
 {"data":{"values":[{"side":"top"}]},"transform":[{"calculate":"-1.439","as":"fx0"},{"calculate":"1.224","as":"fx1"},{"calculate":"1.769","as":"fy0"}],"mark":{"type":"rule","stroke":"#000","strokeWidth":1.3},"encoding":{"x":{"field":"fx0","type":"quantitative"},"x2":{"field":"fx1"},"y":{"field":"fy0","type":"quantitative"},"y2":{"field":"fy0"}}}
]},
{"width":329,"height":341,"layer":[
 {"data":{"name":"spokes"},"transform":[{"calculate":"cos(datum.a*PI/180)","as":"c"},{"calculate":"sin(datum.a*PI/180)","as":"s"},{"calculate":"-cos(datum.a*PI/180)","as":"c2"},{"calculate":"-sin(datum.a*PI/180)","as":"s2"}],"mark":{"type":"rule","stroke":"#dcdcdc","strokeWidth":1},"encoding":{"x":{"field":"c","type":"quantitative","scale":{"domain":[-1.305,1.761],"nice":false,"zero":false},"axis":null},"y":{"field":"s","type":"quantitative","scale":{"domain":[-1.414,1.764],"nice":false,"zero":false},"axis":null},"x2":{"field":"c2"},"y2":{"field":"s2"}}},
 {"data":{"name":"rings15"},"transform":[{"calculate":"datum.v/0.15","as":"n"}],"mark":{"type":"point","shape":"circle","filled":false,"stroke":"#dcdcdc","strokeWidth":1,"opacity":1},"encoding":{"x":{"datum":0,"type":"quantitative"},"y":{"datum":0,"type":"quantitative"},"size":{"field":"n","type":"quantitative","scale":{"type":"pow","exponent":2,"domain":[0,1],"range":[0,46053]},"legend":null}}},
 {"data":{"name":"angles"},"transform":[{"calculate":"1.1*cos(datum.a*PI/180)","as":"lx"},{"calculate":"1.1*sin(datum.a*PI/180)","as":"ly"}],"mark":{"type":"text","font":"Liberation Sans","fontSize":14.4,"fill":"#000"},"encoding":{"x":{"field":"lx","type":"quantitative"},"y":{"field":"ly","type":"quantitative"},"text":{"field":"a","type":"nominal"}}},
 {"data":{"name":"rings15"},"transform":[{"calculate":"datum.v/0.15+0.017","as":"n"},{"calculate":"datum.n*cos(82*PI/180)","as":"lx"},{"calculate":"datum.n*sin(82*PI/180)","as":"ly"}],"mark":{"type":"text","font":"Liberation Sans","fontSize":14.4,"fill":"#000","align":"left","baseline":"bottom","dx":13},"encoding":{"x":{"field":"lx","type":"quantitative"},"y":{"field":"ly","type":"quantitative"},"text":{"field":"lab","type":"nominal"}}},
 {"data":{"name":"arrows"},"transform":[{"filter":"datum.pct==50 && datum.mode==3"},{"calculate":"datum.mag/0.15","as":"n"},{"calculate":"datum.ang*PI/180","as":"t"},{"calculate":"0","as":"o"},{"calculate":"datum.n*cos(datum.t)","as":"tx"},{"calculate":"datum.n*sin(datum.t)","as":"ty"}],"mark":{"type":"rule","strokeWidth":2.2,"strokeCap":"round"},"encoding":{"x":{"field":"o","type":"quantitative"},"y":{"field":"o","type":"quantitative"},"x2":{"field":"tx"},"y2":{"field":"ty"},"color":{"field":"g","type":"nominal","scale":{"domain":["G1","G2","G3","G4"],"range":["#000000","#0072BD","#00FF00","#FF0000"]},"legend":null}}},
 {"data":{"name":"arrows"},"transform":[{"filter":"datum.pct==50 && datum.mode==3"},{"calculate":"datum.mag/0.15","as":"n"},{"calculate":"datum.ang*PI/180","as":"t"},{"calculate":"datum.n*cos(datum.t)","as":"tx"},{"calculate":"datum.n*sin(datum.t)","as":"ty"},{"calculate":"datum.n*(0.8*cos(datum.t)-0.08*sin(datum.t))","as":"hx"},{"calculate":"datum.n*(0.8*sin(datum.t)+0.08*cos(datum.t))","as":"hy"}],"mark":{"type":"rule","strokeWidth":2.2,"strokeCap":"round"},"encoding":{"x":{"field":"tx","type":"quantitative"},"y":{"field":"ty","type":"quantitative"},"x2":{"field":"hx"},"y2":{"field":"hy"},"color":{"field":"g","type":"nominal","scale":{"domain":["G1","G2","G3","G4"],"range":["#000000","#0072BD","#00FF00","#FF0000"]},"legend":null}}},
 {"data":{"name":"arrows"},"transform":[{"filter":"datum.pct==50 && datum.mode==3"},{"calculate":"datum.mag/0.15","as":"n"},{"calculate":"datum.ang*PI/180","as":"t"},{"calculate":"datum.n*cos(datum.t)","as":"tx"},{"calculate":"datum.n*sin(datum.t)","as":"ty"},{"calculate":"datum.n*(0.8*cos(datum.t)+0.08*sin(datum.t))","as":"hx"},{"calculate":"datum.n*(0.8*sin(datum.t)-0.08*cos(datum.t))","as":"hy"}],"mark":{"type":"rule","strokeWidth":2.2,"strokeCap":"round"},"encoding":{"x":{"field":"tx","type":"quantitative"},"y":{"field":"ty","type":"quantitative"},"x2":{"field":"hx"},"y2":{"field":"hy"},"color":{"field":"g","type":"nominal","scale":{"domain":["G1","G2","G3","G4"],"range":["#000000","#0072BD","#00FF00","#FF0000"]},"legend":null}}},
 {"data":{"values":[{"t":"(c) Mode 3"}]},"transform":[{"calculate":"-0.01","as":"px"},{"calculate":"-1.311","as":"py"}],"mark":{"type":"text","font":"Liberation Sans","fontSize":13.4,"fill":"#000"},"encoding":{"x":{"field":"px","type":"quantitative"},"y":{"field":"py","type":"quantitative"},"text":{"field":"t","type":"nominal"}}},
 {"data":{"values":[{"side":"top"}]},"transform":[{"calculate":"-1.305","as":"fx0"},{"calculate":"1.761","as":"fx1"},{"calculate":"1.757","as":"fy0"}],"mark":{"type":"rule","stroke":"#000","strokeWidth":1.3},"encoding":{"x":{"field":"fx0","type":"quantitative"},"x2":{"field":"fx1"},"y":{"field":"fy0","type":"quantitative"},"y2":{"field":"fy0"}}}
]}
],"spacing":0,"bounds":"flush","resolve":{"scale":{"color":"independent","size":"independent"},"legend":{"color":"independent","size":"independent"}}}
]
}
